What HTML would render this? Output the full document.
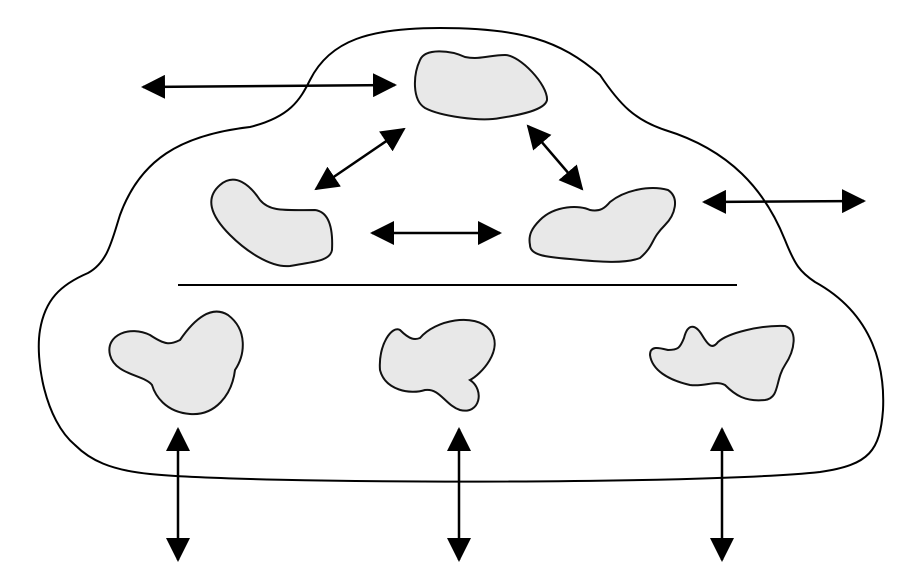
<!DOCTYPE html>
<html><head><meta charset="utf-8"><style>html,body{margin:0;padding:0;background:#fff}svg{display:block}</style></head>
<body>
<svg width="912" height="572" viewBox="0 0 912 572" xmlns="http://www.w3.org/2000/svg">
<defs>
<marker id="a" markerUnits="userSpaceOnUse" markerWidth="24" markerHeight="24" refX="22" refY="12" orient="auto-start-reverse" viewBox="0 0 24 24">
<path d="M0,0 L24,12 L0,24 Z" fill="#000"/>
</marker>
</defs>
<path d="M 75,445 C 45,420 35,360 40,330 C 45,300 60,285 88,273 C 108,262 112,240 120,215 C 140,160 180,135 250,127 C 290,117 300,100 310,80 C 330,40 370,28 440,28 C 520,28 560,40 600,75 C 620,105 635,120 665,130 C 730,150 765,190 785,240 C 795,265 800,272 815,282 C 875,315 885,370 883,410 C 880,450 870,465 820,472 C 700,485 250,484 150,474 C 110,470 90,460 75,445 Z" fill="none" stroke="#000" stroke-width="2"/>
<line x1="178" y1="285" x2="737" y2="285" stroke="#000" stroke-width="2"/>
<g fill="#e8e8e8" stroke="#111" stroke-width="2">
<path d="M 420,60 C 425,48 450,50 465,57 C 480,60 490,55 505,55 C 520,55 548,85 547,100 C 545,110 520,115 500,118 C 480,122 440,116 425,108 C 412,100 413,75 420,60 Z"/>
<path d="M 220,185 C 235,172 250,185 260,200 C 270,212 285,210 315,210 C 330,212 333,230 332,250 C 330,262 310,262 290,266 C 270,268 245,250 230,235 C 210,215 205,198 220,185 Z"/>
<path d="M 540,220 C 555,205 580,205 590,210 C 600,212 605,208 610,202 C 625,190 650,185 668,190 C 680,198 675,215 665,225 C 650,240 655,245 640,258 C 625,264 600,262 570,259 C 545,257 530,255 530,245 C 528,235 532,228 540,220 Z"/>
<path d="M 180,340 C 195,318 212,305 228,315 C 248,330 245,355 235,370 C 232,395 215,416 190,414 C 165,412 155,395 152,385 C 145,375 115,375 110,355 C 105,335 130,325 150,335 C 165,345 170,345 180,340 Z"/>
<path d="M 420,338 C 435,320 475,312 490,330 C 505,350 480,375 470,380 C 485,390 480,415 460,410 C 445,405 440,388 425,390 C 410,395 385,390 380,370 C 378,345 392,325 400,330 C 410,340 415,340 420,338 Z"/>
<path d="M 668,350 C 678,350 680,348 684,338 C 688,322 696,325 702,335 C 708,345 712,350 718,342 C 728,333 760,325 785,326 C 798,330 795,350 785,365 C 775,380 780,398 765,400 C 745,402 735,395 725,385 C 715,380 705,387 690,385 C 668,380 652,370 650,355 C 650,345 660,348 668,350 Z"/>
</g>
<g stroke="#000" stroke-width="2.5" marker-start="url(#a)" marker-end="url(#a)">
<line x1="143" y1="87" x2="395" y2="85"/>
<line x1="316" y1="189" x2="404" y2="129"/>
<line x1="528" y1="126" x2="582" y2="189"/>
<line x1="372" y1="233" x2="500" y2="233"/>
<line x1="704" y1="202" x2="864" y2="201"/>
<line x1="178" y1="429" x2="178" y2="560"/>
<line x1="459" y1="429" x2="459" y2="560"/>
<line x1="722" y1="429" x2="722" y2="560"/>
</g>
</svg>
</body></html>
